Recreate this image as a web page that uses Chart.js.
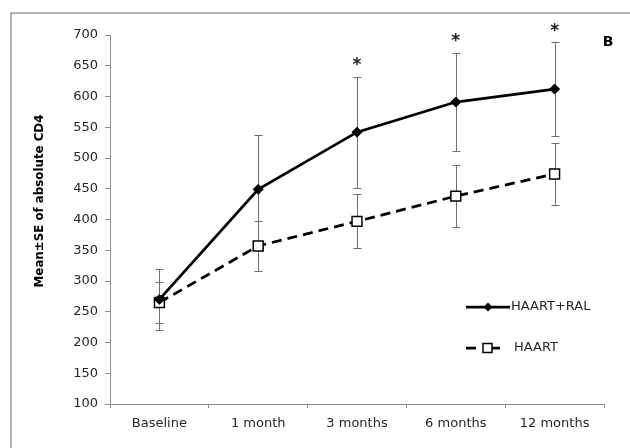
<!DOCTYPE html>
<html>
<head>
<meta charset="utf-8">
<script src="https://cdn.jsdelivr.net/npm/chart.js@4.4.1/dist/chart.umd.min.js"></script>
<style>
  html, body { margin: 0; padding: 0; background: #fff; }
  #wrap { width: 630px; height: 448px; position: relative; }
</style>
</head>
<body>
<div id="wrap"><canvas id="c" width="630" height="448"></canvas></div>
<script>
const categories = ['Baseline', '1 month', '3 months', '6 months', '12 months'];
const ralMean = [270, 449, 542, 591, 612];
const ralSE   = [50, 88, 90, 80, 76];
const haartMean = [265, 357, 397, 438, 474];
const haartSE   = [33, 41, 44, 51, 50];
const significant = [false, false, true, true, true];
const yTicks = [100, 150, 200, 250, 300, 350, 400, 450, 500, 550, 600, 650, 700];
const seriesNames = ['HAART+RAL', 'HAART'];
const panelLabel = 'B';
const yTitle = 'Mean\u00B1SE of absolute CD4';

const FONT = "'DejaVu Sans', 'Liberation Sans', sans-serif";
const AXIS = '#8c8c8c';
const TXT = '#262626';

const errorBars = {
  id: 'errorBars',
  beforeDatasetsDraw(chart) {
    const { ctx, scales: { x, y } } = chart;
    const sets = [[ralMean, ralSE], [haartMean, haartSE]];
    ctx.save();
    ctx.strokeStyle = '#6e6e6e';
    ctx.lineWidth = 1;
    sets.forEach(([m, se]) => {
      m.forEach((v, i) => {
        const px = Math.round(x.getPixelForValue(i)) + 0.5;
        const top = Math.round(y.getPixelForValue(v + se[i])) + 0.5;
        const bot = Math.round(y.getPixelForValue(v - se[i])) + 0.5;
        ctx.beginPath();
        ctx.moveTo(px, top); ctx.lineTo(px, bot);
        ctx.moveTo(px - 4, top); ctx.lineTo(px + 4, top);
        ctx.moveTo(px - 4, bot); ctx.lineTo(px + 4, bot);
        ctx.stroke();
      });
    });
    ctx.restore();
  },
  afterDraw(chart) {
    const { ctx, chartArea: a, scales: { x, y } } = chart;
    ctx.save();
    // y title
    ctx.save();
    ctx.translate(40, 201);
    ctx.rotate(-Math.PI / 2);
    ctx.fillStyle = '#000';
    let fs = 13;
    ctx.font = "bold " + fs + "px " + FONT;
    const w = ctx.measureText(yTitle).width;
    fs = Math.min(14, fs * 173 / w);
    ctx.font = "bold " + fs.toFixed(2) + "px " + FONT;
    ctx.textAlign = 'center';
    ctx.textBaseline = 'middle';
    ctx.fillText(yTitle, 0, 0);
    ctx.restore();
    // asterisks
    ctx.fillStyle = '#222';
    ctx.font = "bold 17px " + FONT;
    ctx.textAlign = 'center';
    ctx.textBaseline = 'middle';
    significant.forEach((s, i) => {
      if (!s) return;
      const px = x.getPixelForValue(i);
      const py = y.getPixelForValue(ralMean[i] + ralSE[i]);
      ctx.fillText('*', px, py - 11);
    });
    // panel label
    ctx.font = "bold 14px " + FONT;
    ctx.textAlign = 'center';
    ctx.textBaseline = 'middle';
    ctx.fillStyle = '#000';
    ctx.fillText(panelLabel, 608, 42);
    // legend
    const lx = 466, ly1 = 307, ly2 = 348;
    ctx.strokeStyle = '#000';
    ctx.lineWidth = 2.75;
    ctx.beginPath(); ctx.moveTo(lx, ly1); ctx.lineTo(lx + 44, ly1); ctx.stroke();
    ctx.fillStyle = '#000';
    ctx.beginPath();
    ctx.moveTo(lx + 22, ly1 - 4.5); ctx.lineTo(lx + 26.5, ly1); ctx.lineTo(lx + 22, ly1 + 4.5); ctx.lineTo(lx + 17.5, ly1); ctx.closePath(); ctx.fill();
    ctx.beginPath(); ctx.moveTo(lx, ly2); ctx.lineTo(lx + 10, ly2); ctx.moveTo(lx + 26, ly2); ctx.lineTo(lx + 34, ly2); ctx.stroke();
    ctx.lineWidth = 1.5;
    ctx.fillStyle = '#fff';
    ctx.fillRect(lx + 17, ly2 - 4.5, 9, 9);
    ctx.strokeRect(lx + 17, ly2 - 4.5, 9, 9);
    ctx.fillStyle = TXT;
    ctx.font = "13px " + FONT;
    ctx.textAlign = 'left';
    ctx.fillText(seriesNames[0], 511, ly1);
    ctx.fillText(seriesNames[1], 514, ly2);
    // frame
    ctx.strokeStyle = '#9a9a9a';
    ctx.lineWidth = 1.5;
    ctx.beginPath();
    ctx.moveTo(11, 448); ctx.lineTo(11, 13); ctx.lineTo(630, 13);
    ctx.stroke();
    ctx.restore();
  }
};

new Chart(document.getElementById('c'), {
  type: 'line',
  data: {
    labels: categories,
    datasets: [
      {
        label: seriesNames[0],
        data: ralMean,
        borderColor: '#000',
        backgroundColor: '#000',
        borderWidth: 2.75,
        pointStyle: 'rectRot',
        pointRadius: 5,
        pointBorderWidth: 1,
        pointBackgroundColor: '#000',
        tension: 0
      },
      {
        label: seriesNames[1],
        data: haartMean,
        borderColor: '#000',
        borderWidth: 2.75,
        borderDash: [10, 6],
        pointStyle: 'rect',
        pointRadius: 7,
        pointBorderWidth: 1.5,
        pointBackgroundColor: '#fff',
        pointBorderColor: '#000',
        tension: 0
      }
    ]
  },
  options: {
    responsive: false,
    animation: false,
    devicePixelRatio: 1,
    layout: { padding: { top: 35, right: 26, left: 0, bottom: 0 } },
    plugins: { legend: { display: false }, tooltip: { enabled: false } },
    scales: {
      x: {
        offset: true,
        grid: { display: true, drawOnChartArea: false, offset: true, tickLength: 4, color: AXIS },
        border: { color: AXIS, width: 1 },
        ticks: { color: TXT, font: { family: FONT, size: 13 }, padding: 8, maxRotation: 0 },
        afterFit(s) { s.height = 44; }
      },
      y: {
        min: 100, max: 700,
        afterBuildTicks(s) { s.ticks = yTicks.map(v => ({ value: v })); },
        grid: { display: true, drawOnChartArea: false, tickLength: 5, color: AXIS },
        border: { color: AXIS, width: 1 },
        ticks: { color: TXT, font: { family: FONT, size: 13 }, padding: 7 },
        afterFit(s) { s.width = 110; }
      }
    }
  },
  plugins: [errorBars]
});
</script>
</body>
</html>
